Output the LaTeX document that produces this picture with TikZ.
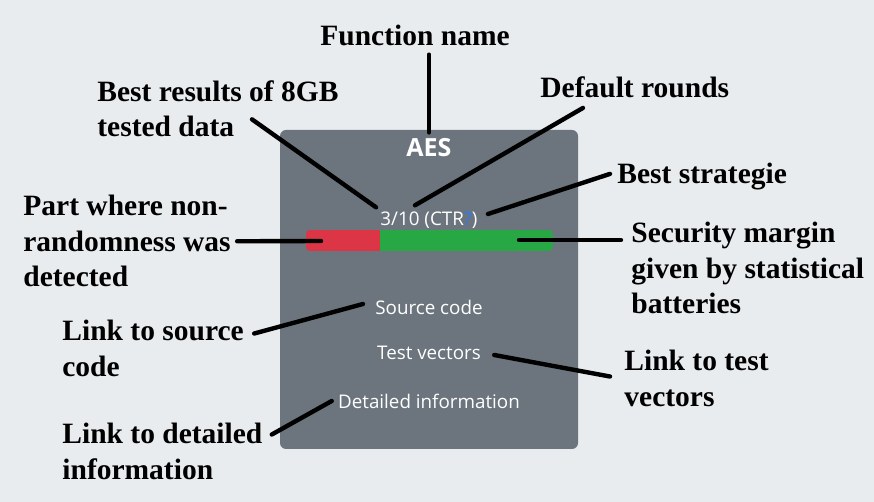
\documentclass[tikz,border=0pt]{standalone}
\usepackage{fontspec}
\setmainfont{Liberation Serif}
\newfontfamily\cardfont{Open Sans}
\usetikzlibrary{positioning,calc}
\definecolor{pagebg}{HTML}{E9ECEF}
\definecolor{cardgray}{HTML}{6C757D}
\definecolor{barred}{HTML}{DC3545}
\definecolor{bargreen}{HTML}{28A745}
\definecolor{qblue}{HTML}{2A7BF5}
\tikzset{
  lbl/.style={anchor=north west, inner sep=0pt, align=left, font=\fontsize{14.75}{17.75}\selectfont\bfseries},
  cardtxt/.style={text=white, inner sep=2pt, font=\cardfont\fontsize{9.4}{11}\selectfont},
  pointer/.style={line width=2.2pt, line cap=round, black},
}

\begin{document}
\begin{tikzpicture}[x=0.5pt,y=-0.5pt]
\useasboundingbox (0,0) rectangle (874,502);
\fill[pagebg] (0,0) rectangle (874,502);
% the card
\fill[cardgray, rounded corners=3pt] (280,130) rectangle (578,449);
\begin{scope}
  \clip[rounded corners=2pt] (306,230) rectangle (553,251);
  \fill[barred] (306,230) rectangle (380,251);
  \fill[bargreen] (380,230) rectangle (553,251);
\end{scope}
\coordinate (redpt) at (321,241);
\coordinate (greenpt) at (519,240);

\node[cardtxt, font=\cardfont\fontsize{12.5}{14}\selectfont\bfseries] (aes) at (429,148) {AES};
\node[cardtxt, font=\cardfont\fontsize{9.4}{11}\selectfont] (ctr) at (429,220) {3/10 (CTR{\color{qblue}?})};
\node[cardtxt] (src) at (429,307) {Source code};
\node[cardtxt] (tv) at (429,353) {Test vectors};
\node[cardtxt] (det) at (429,401) {Detailed information};

% labels
\node[lbl] (fn) at (320,25) {Function name};
\node[lbl] (best) at (97,80) {Best results of 8GB\\tested data};
\node[lbl] (def) at (540,76) {Default rounds};
\node[lbl] (strat) at (617,163) {Best strategie};
\node[lbl] (part) at (23,195) {Part where non-\\randomness was\\detected};
\node[lbl] (sec) at (631,222) {Security margin\\given by statistical\\batteries};
\node[lbl] (lsrc) at (62,320) {Link to source\\code};
\node[lbl] (ltv) at (624,350) {Link to test\\vectors};
\node[lbl] (ldet) at (62,423) {Link to detailed\\information};

% pointers
\draw[pointer] ($(fn.south -| aes)+(0,8)$) -- ($(aes.north)+(0,-2)$);
\draw[pointer] ($(best.south west)+(155,-18)$) -- (ctr.north west);
\draw[pointer] ($(def.south west)+(43,10)$) -- ($(ctr.north)+(-14,-2)$);
\draw[pointer] ($(strat.west)+(-7,-3)$) -- ($(ctr.east)+(6,-6)$);
\draw[pointer] ($(part.east)+(6,0)$) -- (redpt);
\draw[pointer, shorten >=5pt] (greenpt) -- (greenpt -| sec.west);
\draw[pointer] ($(lsrc.east)+(10,-15)$) -- ($(src.west)+(-8,-3)$);
\draw[pointer] ($(tv.east)+(9,2)$) -- ($(ltv.west)+(-14,-2)$);
\draw[pointer] ($(ldet.east)+(9,-17)$) -- ($(det.west)+(-2,0)$);
\end{tikzpicture}
\end{document}
